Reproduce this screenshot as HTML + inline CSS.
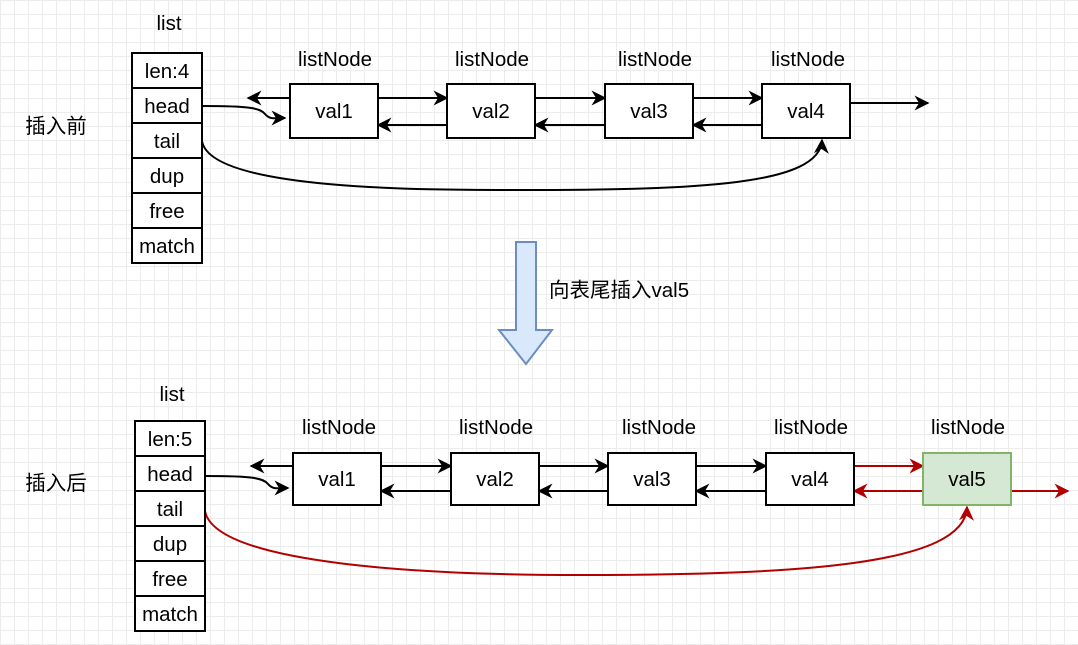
<!DOCTYPE html>
<html><head><meta charset="utf-8"><style>
body{margin:0;width:1078px;height:640px;overflow:hidden;background:#fff;
background-image:linear-gradient(#ececec 1px,transparent 1px),linear-gradient(90deg,#ececec 1px,transparent 1px);background-size:14px 14px;}
svg text{font-family:"Liberation Sans","Noto Sans CJK SC",sans-serif;font-size:20.5px;fill:#000;}
</style></head><body>
<svg width="1078" height="640" xmlns="http://www.w3.org/2000/svg">
<defs>
<marker id="a2" viewBox="0 0 10 10" refX="9" refY="5" markerWidth="17" markerHeight="15" orient="auto" markerUnits="userSpaceOnUse"><path d="M0,0 L10,5 L0,10 L3,5z" fill="#000"/></marker>
<marker id="r2" viewBox="0 0 10 10" refX="9" refY="5" markerWidth="17" markerHeight="15" orient="auto" markerUnits="userSpaceOnUse"><path d="M0,0 L10,5 L0,10 L3,5z" fill="#b20000"/></marker>
</defs>
<g stroke="#000" stroke-width="2" fill="none" marker-end="url(#a2)">
<line x1="290" y1="98" x2="248" y2="98"/>
<line x1="378" y1="98" x2="447" y2="98"/><line x1="447" y1="125" x2="378" y2="125"/>
<line x1="535" y1="98" x2="605" y2="98"/><line x1="605" y1="125" x2="535" y2="125"/>
<line x1="693" y1="98" x2="762" y2="98"/><line x1="762" y1="125" x2="693" y2="125"/>
<line x1="850" y1="103" x2="928" y2="103"/>
<path d="M202,106 C250,106 260,108 265,114 C270,120 275,118 285,118"/>
<path d="M202,141 C210,190 420,190 520,190 C700,190 820,185 822,140"/>
<line x1="293" y1="466" x2="251" y2="466"/>
<line x1="381" y1="466" x2="451" y2="466"/><line x1="451" y1="491" x2="381" y2="491"/>
<line x1="539" y1="466" x2="608" y2="466"/><line x1="608" y1="491" x2="539" y2="491"/>
<line x1="696" y1="466" x2="766" y2="466"/><line x1="766" y1="491" x2="696" y2="491"/>
<path d="M205,476 C253,476 263,478 268,484 C273,490 278,488 288,488"/>
</g>
<g stroke="#b20000" stroke-width="2" fill="none" marker-end="url(#r2)">
<line x1="854" y1="466" x2="923" y2="466"/><line x1="923" y1="491" x2="854" y2="491"/>
<line x1="1011" y1="491" x2="1068" y2="491"/>
<path d="M205,511 C215,565 430,575 580,575 C800,575 965,565 967,507"/>
</g>
<g stroke="#000" stroke-width="2" fill="#fff">
<rect x="132" y="53" width="70" height="210"/>
<line x1="132" y1="88" x2="202" y2="88"/><line x1="132" y1="123" x2="202" y2="123"/><line x1="132" y1="158" x2="202" y2="158"/><line x1="132" y1="193" x2="202" y2="193"/><line x1="132" y1="228" x2="202" y2="228"/>
<rect x="290" y="84" width="88" height="54"/><rect x="447" y="84" width="88" height="54"/><rect x="605" y="84" width="88" height="54"/><rect x="762" y="84" width="88" height="54"/>
<rect x="135" y="421" width="70" height="210"/>
<line x1="135" y1="456" x2="205" y2="456"/><line x1="135" y1="491" x2="205" y2="491"/><line x1="135" y1="526" x2="205" y2="526"/><line x1="135" y1="561" x2="205" y2="561"/><line x1="135" y1="596" x2="205" y2="596"/>
<rect x="293" y="453" width="88" height="52"/><rect x="451" y="453" width="88" height="52"/><rect x="608" y="453" width="88" height="52"/><rect x="766" y="453" width="88" height="52"/>
</g>
<rect x="923" y="453" width="88" height="52" fill="#d5e8d4" stroke="#82b366" stroke-width="2"/>
<path d="M516,242 H536 V330 H552 L526,364 L499,330 H516 Z" fill="#dae8fc" stroke="#6c8ebf" stroke-width="2"/>
<g text-anchor="middle">
<text x="169" y="30">list</text><text x="172" y="401">list</text>
<text x="167" y="78">len:4</text><text x="167" y="113">head</text><text x="167" y="148">tail</text><text x="167" y="183">dup</text><text x="167" y="218">free</text><text x="167" y="253">match</text>
<text x="170" y="446">len:5</text><text x="170" y="481">head</text><text x="170" y="516">tail</text><text x="170" y="551">dup</text><text x="170" y="586">free</text><text x="170" y="621">match</text>
<text x="335" y="66">listNode</text><text x="492" y="66">listNode</text><text x="655" y="66">listNode</text><text x="808" y="66">listNode</text>
<text x="334" y="118">val1</text><text x="491" y="118">val2</text><text x="649" y="118">val3</text><text x="806" y="118">val4</text>
<text x="339" y="434">listNode</text><text x="496" y="434">listNode</text><text x="659" y="434">listNode</text><text x="811" y="434">listNode</text><text x="968" y="434">listNode</text>
<text x="337" y="486">val1</text><text x="495" y="486">val2</text><text x="652" y="486">val3</text><text x="810" y="486">val4</text><text x="967" y="486">val5</text>
<text x="56" y="133">插入前</text><text x="56" y="490">插入后</text>
</g>
<text x="549" y="297">向表尾插入val5</text>
</svg>
</body></html>
